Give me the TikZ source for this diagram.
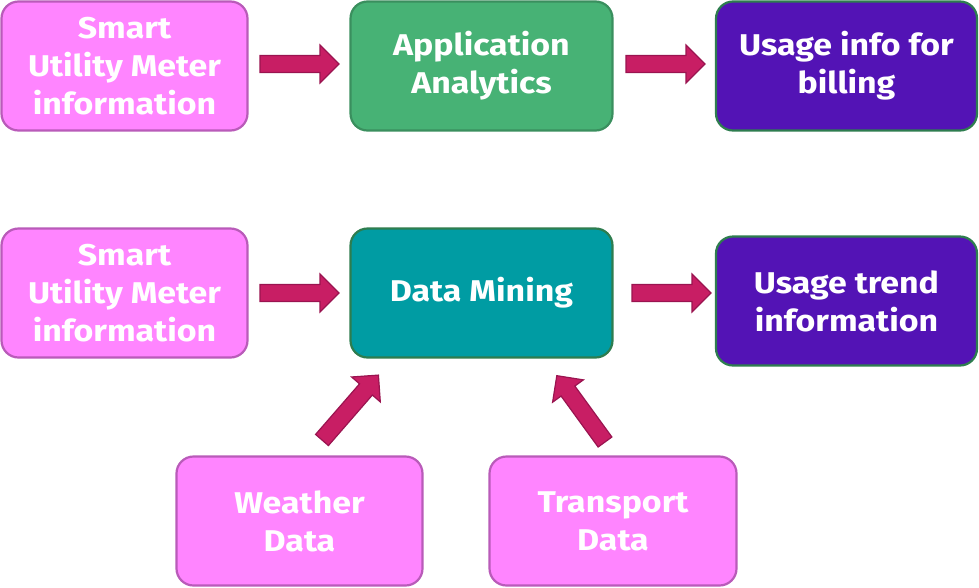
\documentclass[tikz,border=0pt]{standalone}
\usepackage{fontspec}
\setmainfont{Fira Sans}[Ligatures=NoCommon, FakeStretch=1.13]
\definecolor{pinkfill}{HTML}{FF85FF}
\definecolor{pinkline}{HTML}{B95BB9}
\definecolor{greenfill}{HTML}{47B275}
\definecolor{greenline}{HTML}{3A8F5E}
\definecolor{purplefill}{HTML}{5313B5}
\definecolor{tealfill}{HTML}{009CA3}
\definecolor{boxline}{HTML}{2E7D4F}
\definecolor{arrowfill}{HTML}{C81E64}
\definecolor{arrowline}{HTML}{9A1450}
\tikzset{
  box/.style={rounded corners=17pt, line width=2.2pt, align=center, text=white,
    font=\fontsize{30}{38}\selectfont\bfseries, inner sep=0pt},
  pinkbox/.style={box, fill=pinkfill, draw=pinkline},
  greenbox/.style={box, fill=greenfill, draw=greenline},
  purplebox/.style={box, fill=purplefill, draw=boxline},
  tealbox/.style={box, fill=tealfill, draw=boxline},
  pics/barrow/.style={code={
    \filldraw[fill=arrowfill, draw=arrowline, line width=1.2pt, line join=miter]
      (0,-8.5) -- (#1-19,-8.5) -- (#1-19,-19) -- (#1,0) -- (#1-19,19) -- (#1-19,8.5) -- (0,8.5) -- cycle;
  }}
}
\begin{document}
\begin{tikzpicture}[x=1pt,y=-1pt]
\useasboundingbox (0,0) rectangle (979,587);
% boxes
\node[pinkbox, minimum width=246pt, minimum height=129pt] (sm1) at (124.5,66) {Smart\\Utility Meter\\information};
\node[greenbox, minimum width=262pt, minimum height=129pt] (aa) at (481.5,66) {Application\\Analytics};
\node[purplebox, minimum width=261pt, minimum height=129pt] (ub) at (846.5,66) {Usage info for\\billing};
\node[pinkbox, minimum width=246pt, minimum height=129pt] (sm2) at (124.5,293) {Smart\\Utility Meter\\information};
\node[tealbox, minimum width=262pt, minimum height=129pt] (dm) at (481.5,293) {Data Mining};
\node[purplebox, minimum width=261pt, minimum height=129pt] (ut) at (846.5,301) {Usage trend\\information};
\node[pinkbox, minimum width=246pt, minimum height=129pt] (wd) at (299.5,521) {Weather\\Data};
\node[pinkbox, minimum width=247pt, minimum height=129pt] (td) at (613,521) {Transport\\Data};
% arrow anchors
\coordinate (a1) at (260,64);
\coordinate (a2) at (626,64);
\coordinate (a3) at (260,293);
\coordinate (a4) at (632,293);
\coordinate (a5) at (322,440);
\coordinate (a6) at (605,442);
\pic at (a1) {barrow=79};
\pic at (a2) {barrow=79};
\pic at (a3) {barrow=79};
\pic at (a4) {barrow=79};
\pic[rotate=49] at (a5) {barrow=86};
\pic[rotate=126] at (a6) {barrow=82};
\end{tikzpicture}
\end{document}
